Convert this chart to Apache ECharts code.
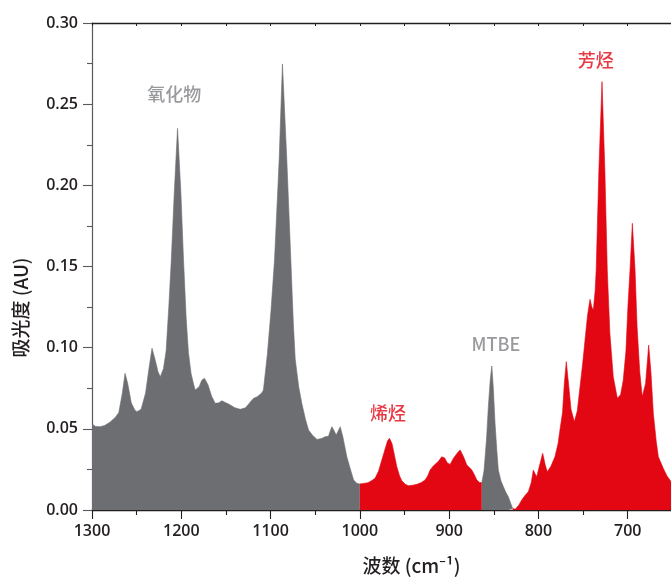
<!DOCTYPE html>
<html>
<head>
<meta charset="utf-8">
<script src="https://cdn.jsdelivr.net/npm/echarts@6/dist/echarts.min.js"></script>
<style>
html,body{margin:0;padding:0;background:#fff;}
#chart{width:671px;height:577px;}
</style>
</head>
<body>
<div id="chart"></div>
<script>
// wavenumber (cm-1), descending
const wavenumbers = [
 1300,1296,1291,1286,1280,1274,1270,1266,1263,1260,1256,1252,1249.6,1245,1240,1236,1232.8,1229,1226,1223.5,
 1220,1217,1214,1211.2,1207.9,1204.2,1200.4,1197.5,1194.5,1192,1189,1186,1184.4,1180,1177,1174,1170,1166,1162,1158,
 1154.5,1150,1147,1140,1134,1128,1122,1119,1115,1110,1108,1103.5,1099.5,1095.6,1090.4,1086.7,1081.8,1077.3,1074.5,1072.4,
 1068.5,1065,1061,1057.5,1053,1048,1043,1038.8,1035.2,1033,1031.3,1029,1026.5,1024,1022,1019,1014.6,1010,1007,1003.5,
 1000,996,991,987,983,979,975.4,971,969,966.9,964,961,958.6,955.5,953,949,945.6,941,936,931,
 927,924,921.3,918,915.8,912,908.3,905,902,898.9,895,891,887.7,884,880.2,877,874.6,872,869,866,
 863.4,861,859.7,858,856.1,854,852.2,850.5,848.6,846.5,844.9,842,839.3,836.5,833.7,831,828.8,826,822,818.7,
 815,811.3,808,805.7,803.5,801.9,798.5,795.2,792.5,790.1,786,781.5,778,775.9,773,771,768.8,766.5,763.5,759.8,
 756.5,753.4,750.5,747.8,745,742.2,740.2,738.5,736.5,735.3,732.3,728.8,725.6,722.9,720,716.2,711.6,708,705,702,
 699.8,697.4,694.8,691.8,689.5,686.5,683.7,680,676.5,674,671.3,668,665.7,660.2,656,652.7,650
];
// absorbance (AU)
const absorbance = [
 0.053,0.0515,0.0513,0.052,0.054,0.057,0.060,0.072,0.0842,0.078,0.066,0.0615,0.0606,0.062,0.072,0.088,0.0996,0.092,0.085,0.0821,
 0.087,0.098,0.125,0.154,0.195,0.2351,0.195,0.154,0.118,0.097,0.084,0.077,0.0739,0.076,0.080,0.0811,0.077,0.070,0.0657,0.066,
 0.0673,0.066,0.0653,0.063,0.062,0.063,0.067,0.0688,0.0698,0.072,0.0739,0.0965,0.123,0.154,0.2156,0.2748,0.2156,0.154,0.115,0.093,
 0.076,0.0657,0.056,0.0493,0.046,0.0435,0.044,0.0452,0.0454,0.049,0.0513,0.049,0.0462,0.049,0.0513,0.045,0.0328,0.024,0.0185,0.0165,
 0.016,0.0164,0.0168,0.018,0.0195,0.024,0.0308,0.039,0.0425,0.0442,0.041,0.033,0.0267,0.021,0.018,0.0158,0.015,0.0152,0.0158,0.017,
 0.0185,0.021,0.0246,0.027,0.0277,0.030,0.0328,0.032,0.029,0.0281,0.032,0.035,0.037,0.033,0.0277,0.026,0.0246,0.022,0.0185,0.017,
 0.0168,0.024,0.0328,0.045,0.0636,0.080,0.0887,0.075,0.0534,0.036,0.0246,0.018,0.0144,0.011,0.0082,0.004,0.001,0.0005,0.003,0.0062,
 0.009,0.0113,0.017,0.0246,0.022,0.0205,0.028,0.0349,0.028,0.0236,0.027,0.0328,0.041,0.0493,0.060,0.078,0.0914,0.079,0.062,0.0544,
 0.061,0.076,0.090,0.1047,0.120,0.1298,0.125,0.123,0.135,0.148,0.2094,0.2639,0.2094,0.148,0.109,0.0821,0.0688,0.071,0.080,0.098,
 0.125,0.148,0.1766,0.148,0.113,0.085,0.0698,0.078,0.1016,0.085,0.0595,0.042,0.0328,0.0257,0.021,0.0185,0.016
];
// colour segments: [high wavenumber, low wavenumber, group]
const segmentHigh = [1300, 1000, 863.4, 828.8];
const segmentLow  = [1000, 863.4, 828.8, 650];
const segmentGroup = ['oxygenate', 'olefin', 'oxygenate', 'aromatic'];
const groupColor = { oxygenate: '#6d6e71', olefin: '#e30613', aromatic: '#e30613' };

// annotations
const annoText  = ['氧化物', '烯烃', 'MTBE', '芳烃'];
const annoX     = [1207.9, 968.4, 847.6, 735.7];
const annoY     = [0.2563, 0.0598, 0.1023, 0.2772];
const annoColor = ['#808184', '#e30613', '#808184', '#e30613'];

// x tick labels shown (every 100 cm-1), y range
const xLabelValues = [1300, 1200, 1100, 1000, 900, 800, 700];
const yTicks = [0, 0.05, 0.10, 0.15, 0.20, 0.25, 0.30];

const chart = echarts.init(document.getElementById('chart'), null, { renderer: 'canvas' });

const series = segmentHigh.map((hi, i) => {
  const lo = segmentLow[i];
  const pts = [];
  for (let k = 0; k < wavenumbers.length; k++) {
    const w = wavenumbers[k];
    if (w <= hi && w >= lo) pts.push([w, absorbance[k]]);
  }
  const c = groupColor[segmentGroup[i]];
  return {
    type: 'line',
    xAxisIndex: 0,
    data: pts,
    showSymbol: false,
    symbol: 'none',
    smooth: false,
    lineStyle: { width: 0.6, color: c },
    areaStyle: { color: c, opacity: 1 },
    silent: true,
    z: 2
  };
});

series.push({
  type: 'scatter',
  xAxisIndex: 0,
  data: annoText.map((t, i) => ({
    value: [annoX[i], annoY[i]],
    name: t,
    label: { color: annoColor[i] }
  })),
  symbol: 'circle',
  symbolSize: 1,
  itemStyle: { color: 'rgba(0,0,0,0)' },
  label: {
    show: true,
    position: 'inside',
    formatter: p => p.name,
    fontSize: 18,
    fontFamily: 'Noto Sans CJK SC, Noto Sans',
    fontWeight: 500
  },
  silent: true,
  z: 5
});

const axisFont = { fontFamily: 'Open Sans', fontWeight: 600, fontSize: 16, color: '#231f20' };

chart.setOption({
  animation: false,
  backgroundColor: '#ffffff',
  grid: { left: 92, top: 23, right: -46, bottom: 67, containLabel: false, outerBoundsMode: 'none' },
  xAxis: [
    {
      type: 'value', position: 'bottom', inverse: true,
      min: 600, max: 1300, interval: 100,
      axisLine: { show: true, onZero: false, lineStyle: { color: '#231f20', width: 1.3 } },
      axisTick: { show: true, inside: false, length: 9, lineStyle: { color: '#231f20', width: 1.1 } },
      minorTick: { show: true, splitNumber: 2, length: 5, lineStyle: { color: '#231f20', width: 1.1 } },
      axisLabel: Object.assign({
        margin: 13,
        hideOverlap: false,
        formatter: v => (xLabelValues.indexOf(v) >= 0 ? String(v) : '')
      }, axisFont),
      splitLine: { show: false }
    },
    {
      type: 'value', position: 'top', inverse: true,
      min: 600, max: 1300, interval: 50,
      axisLine: { show: true, onZero: false, lineStyle: { color: '#231f20', width: 1.3 } },
      axisTick: { show: true, inside: true, length: 3, lineStyle: { color: '#231f20', width: 1 } },
      axisLabel: { show: false },
      splitLine: { show: false }
    }
  ],
  yAxis: {
    type: 'value', min: yTicks[0], max: yTicks[yTicks.length - 1], interval: 0.05,
    axisLine: { show: true, onZero: false, lineStyle: { color: '#58595b', width: 1.2 } },
    axisTick: { show: true, inside: false, length: 9, lineStyle: { color: '#58595b', width: 1.1 } },
    minorTick: { show: true, splitNumber: 2, length: 5, lineStyle: { color: '#58595b', width: 1.1 } },
    axisLabel: Object.assign({ margin: 14, formatter: v => v.toFixed(2) }, axisFont),
    splitLine: { show: false }
  },
  graphic: [
    {
      type: 'text', x: 20.5, y: 307.5, rotation: Math.PI / 2,
      style: {
        text: '吸光度 (AU)', fill: '#231f20', fontSize: 19, fontWeight: 500,
        fontFamily: 'Noto Sans CJK SC, Noto Sans',
        textAlign: 'center', textVerticalAlign: 'middle'
      }
    },
    {
      type: 'text', x: 411.5, y: 566,
      style: {
        text: '波数 (cm⁻¹)', fill: '#231f20', fontSize: 19, fontWeight: 500,
        fontFamily: 'Noto Sans CJK SC, Noto Sans',
        textAlign: 'center', textVerticalAlign: 'middle'
      }
    }
  ],
  series: series
});
</script>
</body>
</html>
